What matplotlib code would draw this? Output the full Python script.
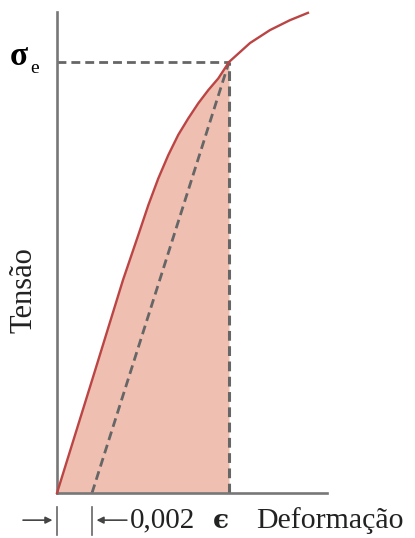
import matplotlib
matplotlib.use('Agg')
from matplotlib import pyplot as plt

# curva tensão-deformação
strain = [0.0, 0.00206, 0.00377, 0.00465, 0.00522, 0.00579, 0.00636, 0.00693, 0.00750,
          0.00807, 0.00865, 0.00922, 0.00983, 0.01103, 0.01217, 0.01331, 0.01434]
stress = [0.0, 0.269, 0.494, 0.599, 0.668, 0.730, 0.784, 0.831, 0.869,
          0.904, 0.935, 0.962, 1.0, 1.044, 1.074, 1.097, 1.114]

# linha paralela deslocada de 0,002
offset_strain = [0.002, 0.00983]
offset_stress = [0.0, 1.0]

yield_strain = 0.00983
yield_stress = 1.0
offset = 0.002

W, H = 415, 538
fig = plt.figure(figsize=(W / 100, H / 100), dpi=100)
ax = fig.add_axes([57 / W, 45 / H, 270 / W, 481 / H])
ax.set_xlim(0, 0.01543)
ax.set_ylim(0, 1.116)
for s in ['top', 'right']:
    ax.spines[s].set_visible(False)
for s in ['left', 'bottom']:
    ax.spines[s].set_color('#777777')
    ax.spines[s].set_linewidth(1.9)
ax.set_xticks([])
ax.set_yticks([])

red = '#bb4444'
fill = '#efc0b2'
gray = '#666666'

n_yield = strain.index(yield_strain) + 1
ax.fill_between(strain[:n_yield], stress[:n_yield], color=fill, lw=0)
ax.plot(strain, stress, color=red, lw=1.7, clip_on=False, zorder=3)
ax.plot(offset_strain, offset_stress, color=gray, lw=2.0, dashes=(3.2, 1.8))
ax.plot([0, yield_strain], [yield_stress, yield_stress], color=gray, lw=2.0, dashes=(3.2, 1.8))
ax.plot([yield_strain, yield_strain], [0, yield_stress], color=gray, lw=2.2, dashes=(3.2, 1.8))

serif = 'Liberation Serif'

# textos
ax.text(-0.00272, 1.012, 'σ', fontsize=24, family=serif, fontweight='bold',
        ha='left', va='center', clip_on=False)
ax.text(-0.00155, 0.985, 'e', fontsize=14, family=serif, ha='left', va='center', clip_on=False)
ax.text(-0.0019, 0.47, 'Tensão', fontsize=22, family=serif, rotation=90,
        ha='center', va='center', color='#222222')

# cotas de 0,002
ybar = [-0.033, -0.097]
ya = -0.063
kw = dict(color='#666666', lw=1.2, clip_on=False)
ax.plot([0, 0], ybar, **kw)
ax.plot([offset, offset], ybar, **kw)
ax.annotate('', xy=(-0.0001, ya), xytext=(-0.0021, ya), annotation_clip=False,
            arrowprops=dict(arrowstyle='-|>', color='#444444', lw=1.2, mutation_scale=10))
ax.annotate('', xy=(offset + 0.0001, ya), xytext=(0.00415, ya), annotation_clip=False,
            arrowprops=dict(arrowstyle='-|>', color='#444444', lw=1.2, mutation_scale=10))
ax.text(0.00415, ya, '0,002', fontsize=21, family=serif, ha='left', va='center', color='#222222')
ax.text(0.00890, ya, 'ϵ', fontsize=19, family=['DejaVu Serif'], fontweight='bold',
        ha='left', va='center', color='#222222')
ax.text(0.01140, ya, 'Deformação', fontsize=21.5, family=serif, ha='left', va='center', color='#222222')

fig.savefig('out.png', dpi=100)
